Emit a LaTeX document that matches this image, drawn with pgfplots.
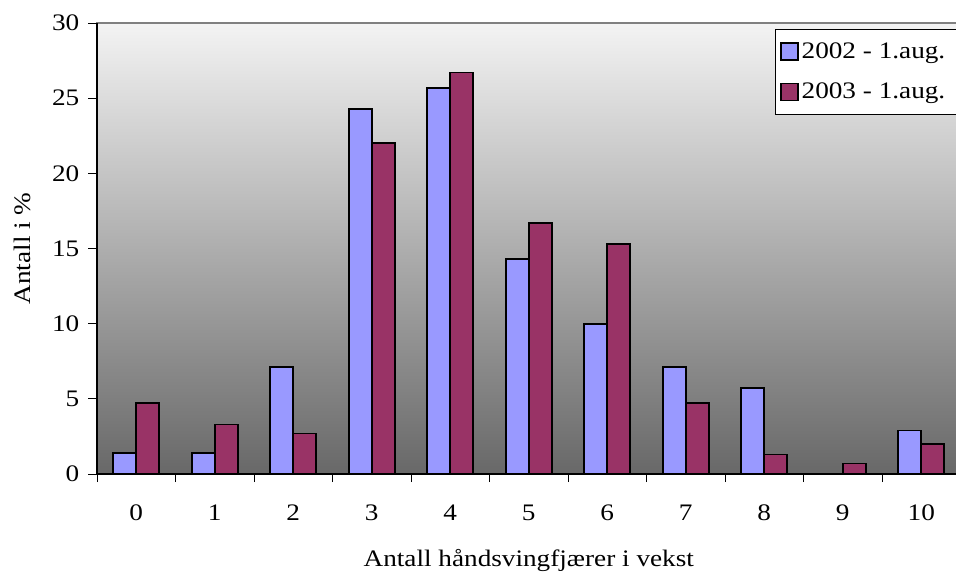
\documentclass[border=0pt]{standalone}
\usepackage{pgfplots}
\pgfplotsset{compat=1.18}
\usepackage{fontspec}
\setmainfont{Liberation Serif}[FakeStretch=1.15]
\usetikzlibrary{calc}
\definecolor{bluebar}{RGB}{153,153,255}
\definecolor{plumbar}{RGB}{153,51,102}
\definecolor{bgtop}{RGB}{243,243,243}
\definecolor{bgbot}{RGB}{104,104,104}
\newcommand\chartfont{\fontsize{17.75}{20}\selectfont}

\pgfplotstableread{
x  a    b
0  1.4  4.7
1  1.4  3.3
2  7.1  2.7
3  24.3 22.0
4  25.7 26.7
5  14.3 16.7
6  10.0 15.3
7  7.1  4.7
8  5.7  1.3
9  0    0.7
10 2.9  2.0
}\feathers

\begin{document}
\begin{tikzpicture}
\begin{axis}[
  scale only axis,
  width=647.6pt, height=338.25pt,
  ybar=0pt, bar width=17.25pt,
  xmin=-0.5, xmax=10.5, ymin=0, ymax=30,
  ytick={0,5,...,30},
  xtick={0,...,10},
  minor xtick={-0.5,0.5,...,10.5},
  major x tick style={draw=none},
  minor tick length=6pt,
  major tick length=6.75pt,
  tick align=outside,
  tick pos=left,
  tick style={black, line width=0.6pt},
  axis lines*=left,
  axis line style={-, black, line width=1pt},
  axis background/.style={shade, top color=bgtop, bottom color=bgbot, draw=gray, line width=1pt},
  /pgf/number format/assume math mode=true,
  tick label style={font=\chartfont},
  xticklabel style={yshift=-13pt},
  yticklabel style={xshift=-3pt},
  label style={font=\chartfont},
  xlabel={Antall håndsvingfjærer i vekst},
  ylabel={Antall i \%},
  xlabel style={at={(axis description cs:0.5,0)}, anchor=center, yshift=-64.5pt},
  ylabel style={at={(axis description cs:0,0.5)}, anchor=center, yshift=56pt},
  legend style={at={(rel axis cs:0.785,0.987)}, anchor=north west,
    draw=black, fill=white, line width=0.75pt, font=\chartfont,
    row sep=13pt, inner xsep=3.5pt, inner ysep=8pt},
  legend cell align=left,
  legend image code/.code={\draw[#1, line width=1.2pt] (0pt,-6.5pt) rectangle (13pt,6.5pt);},
]
\addplot[fill=bluebar, draw=black, line width=1.3pt] table[x=x, y=a] {\feathers};
\addplot[fill=plumbar, draw=black, line width=1.3pt] table[x=x, y=b] {\feathers};
\legend{2002 - 1.aug.\kern10pt,2003 - 1.aug.\kern10pt}
\end{axis}
\pgfresetboundingbox
\path[use as bounding box] ($(current axis.south west)+(-72.75pt,-76.5pt)$) rectangle ($(current axis.north east)+(-3.4pt,17.25pt)$);
\end{tikzpicture}
\end{document}
